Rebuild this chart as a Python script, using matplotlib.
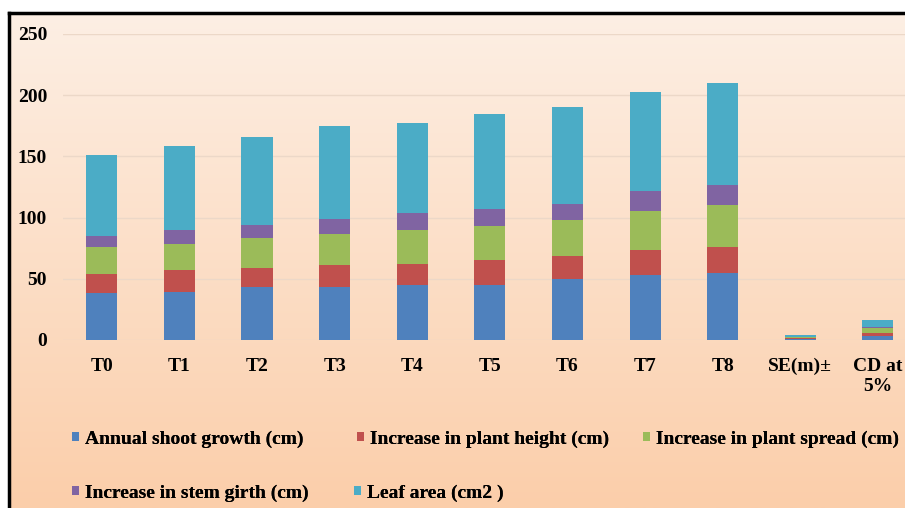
import numpy as np
import matplotlib
matplotlib.use('Agg')
import matplotlib.pyplot as plt
from matplotlib.patches import Patch
from matplotlib.lines import Line2D
from matplotlib.font_manager import FontProperties

categories = ['T0', 'T1', 'T2', 'T3', 'T4', 'T5', 'T6', 'T7', 'T8', 'SE(m)±', 'CD at\n5%']
annual_shoot = [38, 39, 43, 43.5, 45, 45, 50, 53, 54.5, 1.2, 3.5]
plant_height = [16, 18, 15.5, 17.5, 17, 20, 18.5, 20.5, 21.5, 0.5, 2.5]
plant_spread = [22, 21.5, 24.5, 26, 28, 28, 29.5, 32, 34, 0.7, 3.5]
stem_girth = [9, 11, 11, 11.5, 13.5, 14, 13.5, 16.5, 16.5, 0.3, 1.2]
leaf_area = [66, 69, 72, 76.5, 74, 78, 79, 81, 83.5, 1.0, 5.5]
series_names = ['Annual shoot growth (cm)', 'Increase in plant height (cm)',
                'Increase in plant spread (cm)', 'Increase in stem girth (cm)',
                'Leaf area (cm2 )']
yticks = [0, 50, 100, 150, 200, 250]

colors = ['#4F81BD', '#C0504D', '#9BBB59', '#8064A2', '#4BACC6']
FONT = dict(family='Liberation Serif', weight='bold', size=14)

W, H = 905, 508
fig = plt.figure(figsize=(W / 100, H / 100), dpi=100)
fig.patch.set_facecolor('white')

# gradient background inside frame
bg = fig.add_axes([9 / W, 0, 1 - 9 / W, (H - 13) / H])
top = np.array([253, 239, 228]) / 255
bot = np.array([251, 206, 170]) / 255
t = np.linspace(0, 1, 256)[:, None]
grad = top[None, :] * (1 - t) + bot[None, :] * t
bg.imshow(grad[:, None, :], aspect='auto', extent=[0, 1, 0, 1])
bg.axis('off')

ax = fig.add_axes([63 / W, (H - 340) / H, (W - 63) / W, (340 - 34) / H])
ax.set_facecolor('none')

series = [annual_shoot, plant_height, plant_spread, stem_girth, leaf_area]
x = np.arange(len(categories))
bottom = np.zeros(len(categories))
handles = []
for vals, c, name in zip(series, colors, series_names):
    ax.bar(x, vals, width=0.4, bottom=bottom, color=c, zorder=3)
    bottom += np.array(vals)
    handles.append(Patch(facecolor=c, label=name))

ax.set_xlim(-0.5, 10.35)
ax.set_ylim(0, 250)
ax.set_yticks(yticks)
ax.set_yticklabels([str(v) for v in yticks], fontdict=FONT)
ax.set_xticks(x)
ax.set_xticklabels(categories, fontdict=FONT, linespacing=1.25, va='top')
ax.tick_params(axis='both', length=0)
ax.tick_params(axis='x', pad=13)
ax.tick_params(axis='y', pad=11.5)
for s in ax.spines.values():
    s.set_visible(False)
ax.yaxis.grid(True, color='#ecd8c8', lw=1, zorder=0)

# frame lines
fig.add_artist(Line2D([9 / W, 1], [(H - 13) / H] * 2, color='black', lw=2.5))
fig.add_artist(Line2D([9 / W] * 2, [0, (H - 13) / H], color='black', lw=2.5))

# legend entries (Excel-style fixed placement)
fp = FontProperties(family='Liberation Serif', weight='bold', size=14)
entry_pos = [(72, 439), (357, 439), (643, 439), (72, 493), (354, 493)]
for h, (px, py) in zip(handles, entry_pos):
    leg = fig.legend(handles=[h], loc='center left',
                     bbox_to_anchor=(px / W, 1 - py / H), frameon=False,
                     prop=fp, handlelength=0.35, handleheight=0.35,
                     handletextpad=0.3, borderpad=0, borderaxespad=0)
    fig.add_artist(leg)

fig.savefig('out.png', dpi=100)
